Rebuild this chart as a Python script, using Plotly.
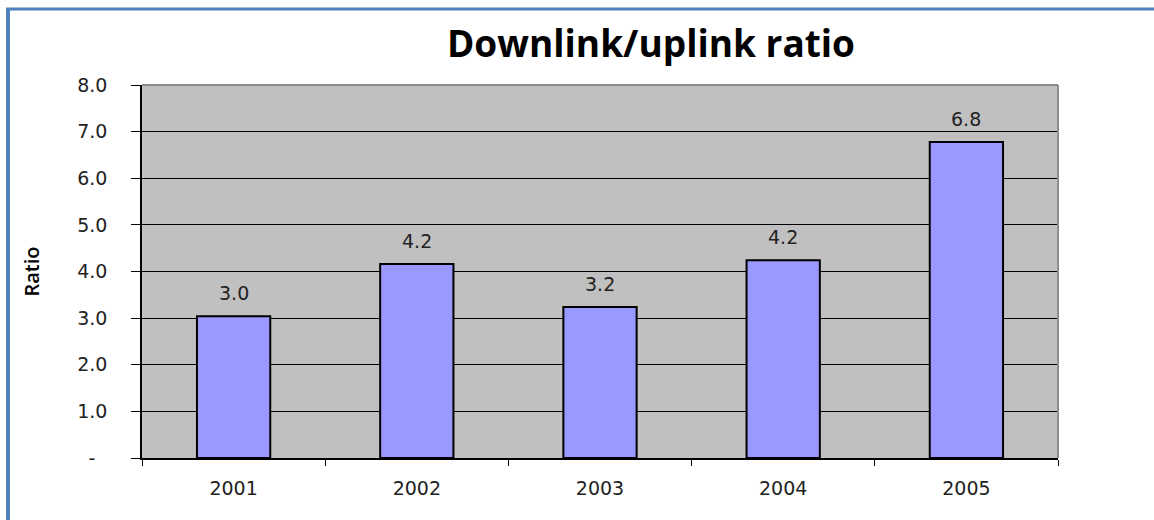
import plotly.graph_objects as go

# Downlink/uplink bandwidth ratio per year
years = ["2001", "2002", "2003", "2004", "2005"]
ratios = [3.04, 4.16, 3.24, 4.24, 6.78]

y_ticks = [0, 1, 2, 3, 4, 5, 6, 7, 8]
y_tick_labels = ["-\u00a0\u00a0", "1.0", "2.0", "3.0", "4.0", "5.0", "6.0", "7.0", "8.0"]

W, H = 1154, 520
L, R, T, B = 142, 96, 85, 62
pw, ph = W - L - R, H - T - B


def px_x(x):
    return (x - L) / pw


def px_y(y):
    return (H - B - y) / ph


label_font = dict(family="DejaVu Sans", size=19, color="#222222")

fig = go.Figure(
    go.Bar(
        x=years,
        y=ratios,
        marker=dict(color="#9999FF", line=dict(color="#000000", width=2)),
        width=0.4,
    )
)

# value labels above each bar (category index as x position)
for i, v in enumerate(ratios):
    fig.add_annotation(
        x=i, y=v, xref="x", yref="y", text=f"{v:.1f}", showarrow=False,
        yanchor="bottom", yshift=10, font=label_font,
    )

frame = "#4F81BD"
fig.update_layout(
    width=W,
    height=H,
    margin=dict(l=L, r=R, t=T, b=B),
    paper_bgcolor="#FFFFFF",
    plot_bgcolor="#C0C0C0",
    showlegend=False,
    title=dict(
        text="<b>Downlink/uplink ratio</b>",
        font=dict(family="Open Sans", size=37, color="#000000"),
        x=px_x(651),
        xref="paper",
        xanchor="center",
        y=1 - 44 / H,
        yanchor="middle",
    ),
    xaxis=dict(
        type="category",
        range=[-0.5, 4.5],
        tickson="boundaries",
        ticks="outside",
        ticklen=6,
        tickwidth=1,
        tickcolor="#000000",
        showline=True,
        linecolor="#000000",
        linewidth=1.5,
        showgrid=False,
        tickfont=label_font,
        ticklabelstandoff=12,
    ),
    yaxis=dict(
        range=[0, 8],
        tickvals=y_ticks,
        ticktext=y_tick_labels,
        ticks="outside",
        ticklen=9,
        tickwidth=1,
        tickcolor="#000000",
        showline=True,
        linecolor="#000000",
        linewidth=1.5,
        gridcolor="#000000",
        gridwidth=1,
        zeroline=False,
        tickfont=label_font,
        ticklabelstandoff=20,
        title=dict(
            text="Ratio",
            font=dict(family="Open Sans", size=20, color="#000000", weight=600),
            standoff=32,
        ),
    ),
    shapes=[
        # grey plot border on top and right
        dict(type="line", xref="paper", yref="paper", x0=0, x1=1, y0=1, y1=1,
             line=dict(color="#8C8C8C", width=2)),
        dict(type="line", xref="paper", yref="paper", x0=1, x1=1, y0=0, y1=1,
             line=dict(color="#8C8C8C", width=2)),
        # blue page frame
        dict(type="line", xref="paper", yref="paper", x0=px_x(6), x1=px_x(1160),
             y0=px_y(9), y1=px_y(9), line=dict(color=frame, width=3)),
        dict(type="line", xref="paper", yref="paper", x0=px_x(8), x1=px_x(8),
             y0=px_y(8), y1=px_y(530), line=dict(color=frame, width=4)),
    ],
)

fig.write_html("out.html")
